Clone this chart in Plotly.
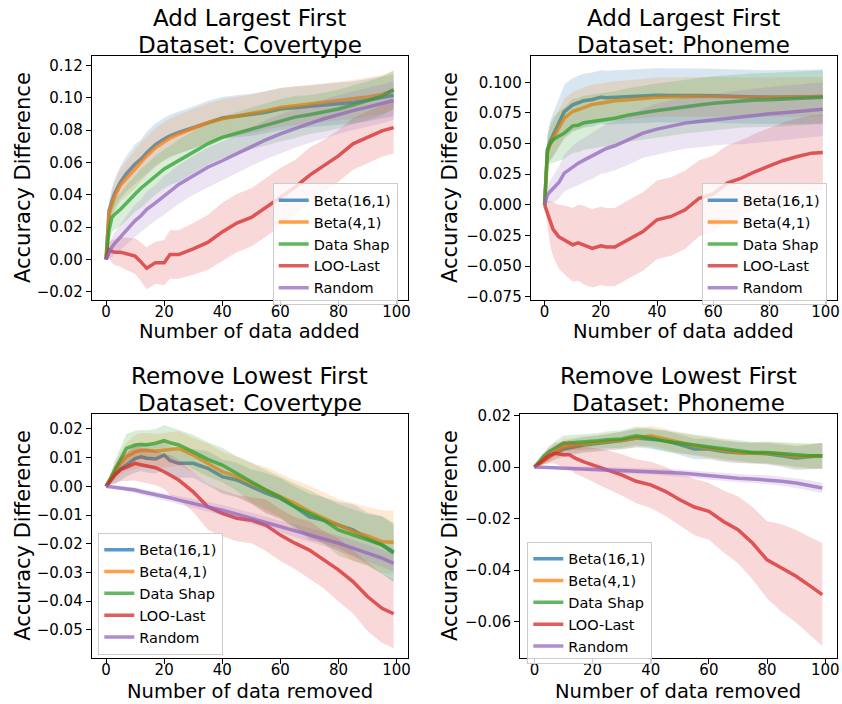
import plotly.graph_objects as go

# ---------------- data ----------------
X = [0, 1, 2, 3, 5, 7, 10, 12, 14, 17, 20, 22, 25, 30, 35, 40, 45, 50, 55, 60, 65, 70, 75, 80, 85, 90, 95, 99]
series_names = ["Beta(16,1)", "Beta(4,1)", "Data Shap", "LOO-Last", "Random"]
colors = ["31,119,180", "255,127,14", "44,160,44", "214,39,40", "148,103,189"]

# Add Largest First - Covertype
tl_beta16 = [0, .030, .036, .041, .048, .053, .059, .062, .066, .071, .0745, .0765, .0785, .0815, .085, .0875, .0885, .0895, .091, .093, .094, .0945, .0955, .0962, .097, .0985, .100, .1015]
tl_beta4 = [0, .028, .034, .039, .046, .050, .056, .060, .064, .069, .073, .075, .0775, .081, .0845, .087, .0885, .090, .092, .094, .095, .096, .097, .098, .099, .1005, .102, .1045]
tl_shap = [0, .018, .026, .028, .031, .035, .0405, .044, .047, .052, .056, .058, .061, .066, .0715, .0755, .078, .081, .0835, .086, .088, .0895, .091, .093, .0955, .098, .101, .105]
tl_loo = [0, .006, .005, .0045, .0045, .0035, .002, -.0015, -.0055, -.002, -.002, .003, .003, .0065, .0105, .017, .0225, .026, .032, .0385, .0445, .052, .058, .064, .0715, .0755, .0795, .0815]
tl_rand = [0, .004, .0076, .010, .014, .018, .024, .027, .031, .035, .0396, .042, .0464, .052, .057, .061, .0655, .070, .074, .0777, .081, .084, .087, .0896, .092, .0942, .0962, .0983]
tl_sd_beta16 = [0, .006, .008, .009, .010, .011, .012, .012, .013, .013, .013, .013, .013, .013, .013, .013, .013, .013, .013, .013, .013, .013, .013, .013, .013, .013, .013, .013]
tl_sd_beta4 = [0, .006, .008, .009, .010, .011, .012, .012, .012, .012, .012, .012, .012, .012, .012, .012, .012, .012, .012, .012, .012, .012, .012, .012, .012, .012, .012, .012]
tl_sd_shap = [0, .008, .009, .010, .010, .011, .011, .012, .012, .012, .012, .012, .013, .013, .013, .013, .013, .013, .013, .013, .013, .012, .012, .012, .012, .012, .012, .012]
tl_sd_loo = [0, .005, .007, .008, .009, .010, .011, .012, .013, .013, .014, .015, .015, .016, .017, .018, .018, .018, .018, .018, .017, .017, .016, .016, .016, .016, .016, .016]
tl_sd_rand = [0, .004, .006, .007, .008, .009, .010, .010, .011, .011, .012, .012, .012, .012, .012, .012, .012, .012, .012, .012, .012, .012, .012, .012, .012, .012, .012, .012]

# Add Largest First - Phoneme
tr_beta16 = [0, .045, .052, .057, .066, .076, .0816, .083, .085, .086, .0879, .0875, .0879, .0884, .0888, .0895, .0893, .0895, .0893, .089, .0885, .0879, .088, .0879, .0879, .0879, .088, .0884]
tr_beta4 = [0, .042, .050, .054, .062, .0707, .0762, .078, .080, .082, .083, .084, .0849, .0857, .087, .0879, .088, .0884, .0884, .0884, .088, .0879, .0879, .0879, .0879, .0879, .088, .0884]
tr_shap = [0, .045, .050, .053, .056, .0585, .0645, .065, .067, .068, .0694, .070, .0707, .0734, .0755, .077, .0785, .0803, .0815, .083, .084, .0851, .0855, .0857, .0862, .0868, .0873, .0879]
tr_loo = [0, -.0068, -.015, -.020, -.026, -.0286, -.0326, -.031, -.033, -.0355, -.0335, -.0345, -.0345, -.028, -.0218, -.0122, -.0095, -.0041, .0054, .009, .0177, .0218, .0272, .0318, .0362, .0394, .0422, .0427]
tr_rand = [0, .0082, .0109, .013, .018, .0259, .0313, .034, .0365, .040, .0443, .046, .0482, .053, .0585, .0618, .0645, .0667, .068, .0694, .0705, .0715, .073, .0743, .0752, .0762, .0772, .0781]
tr_sd_beta16 = [0, .012, .016, .018, .020, .022, .022, .022, .022, .022, .022, .022, .022, .022, .022, .022, .022, .022, .022, .022, .022, .022, .022, .022, .022, .022, .022, .022]
tr_sd_beta4 = [0, .010, .013, .014, .015, .016, .016, .016, .016, .016, .016, .016, .016, .016, .016, .016, .016, .016, .016, .016, .016, .016, .016, .016, .016, .016, .016, .016]
tr_sd_shap = [0, .012, .016, .018, .020, .021, .022, .022, .022, .022, .022, .022, .022, .022, .022, .022, .022, .022, .022, .022, .022, .022, .022, .022, .022, .022, .022, .022]
tr_sd_loo = [0, .010, .018, .022, .026, .028, .030, .031, .032, .032, .032, .032, .032, .032, .032, .032, .032, .032, .031, .031, .031, .031, .031, .031, .031, .031, .031, .031]
tr_sd_rand = [0, .006, .009, .011, .013, .015, .017, .018, .018, .019, .019, .020, .020, .020, .020, .021, .021, .021, .021, .021, .021, .022, .022, .022, .022, .022, .022, .022]

# Remove Lowest First - Covertype
bl_beta16 = [0, .0014, .0028, .004, .006, .0074, .0097, .0103, .0098, .0095, .0109, .009, .008, .008, .0063, .0034, .0022, -.0001, -.0024, -.0042, -.0071, -.0106, -.0118, -.0135, -.0152, -.0181, -.0204, -.0233]
bl_beta4 = [0, .0017, .0034, .005, .008, .0103, .012, .0125, .0126, .0122, .0126, .0128, .0132, .0109, .008, .0051, .0034, .001, -.0013, -.0036, -.0059, -.0088, -.0111, -.0135, -.0158, -.0173, -.0193, -.0195]
bl_shap = [0, .002, .004, .006, .0095, .0132, .0144, .0146, .0145, .015, .0159, .0152, .0144, .012, .0094, .0074, .0045, .0013, -.0013, -.0038, -.0071, -.0094, -.0118, -.0152, -.017, -.0187, -.0204, -.0228]
bl_loo = [0, .0014, .0028, .004, .0058, .0068, .008, .0075, .007, .0065, .0051, .004, .0022, -.0019, -.0071, -.0094, -.0111, -.0118, -.0135, -.017, -.0198, -.0222, -.0256, -.0291, -.0332, -.0384, -.0425, -.0444]
bl_rand = [0, -.0001, -.0002, -.0003, -.0006, -.0009, -.0013, -.0018, -.0022, -.0028, -.0036, -.004, -.0048, -.0059, -.0071, -.0083, -.0097, -.0111, -.0125, -.014, -.0155, -.0169, -.0183, -.0198, -.0215, -.0233, -.025, -.0268]
bl_sd_beta16 = [0, .001, .002, .003, .004, .004, .005, .005, .005, .005, .005, .005, .005, .005, .006, .006, .006, .006, .007, .007, .007, .008, .008, .008, .009, .009, .010, .010]
bl_sd_beta4 = [0, .001, .002, .003, .004, .005, .006, .006, .006, .006, .006, .006, .006, .006, .007, .007, .007, .007, .008, .008, .008, .009, .009, .009, .010, .010, .011, .011]
bl_sd_shap = [0, .001, .002, .003, .004, .005, .005, .005, .005, .005, .0055, .0055, .0055, .006, .006, .006, .006, .007, .007, .007, .008, .008, .008, .009, .009, .009, .010, .010]
bl_sd_loo = [0, .001, .002, .003, .004, .005, .006, .006, .006, .006, .006, .007, .007, .007, .008, .008, .008, .008, .009, .009, .009, .010, .010, .011, .011, .012, .012, .012]
bl_sd_rand = [0, 0, .0003, .0005, .0007, .0008, .001, .001, .001, .0012, .0013, .0014, .0015, .0016, .0017, .0018, .0019, .002, .002, .002, .0022, .0024, .0025, .0026, .0028, .003, .003, .003]

# Remove Lowest First - Phoneme
br_beta16 = [0, .0008, .0016, .0025, .004, .0054, .007, .0075, .008, .0086, .009, .0092, .0096, .0103, .0113, .0109, .0103, .0087, .007, .007, .0061, .0056, .0054, .0052, .0044, .0035, .0041, .0044]
br_beta4 = [0, .0008, .0016, .0023, .0038, .0057, .0078, .0082, .0085, .009, .0093, .0096, .010, .0103, .0113, .0122, .0109, .0096, .0083, .0074, .0065, .0057, .0054, .0054, .005, .0041, .0041, .0044]
br_shap = [0, .0014, .0028, .004, .006, .0074, .0093, .0094, .0095, .0097, .010, .0102, .0106, .0109, .0122, .0113, .010, .0093, .0087, .008, .007, .0065, .0057, .0057, .0052, .0048, .0044, .0044]
br_loo = [0, .0009, .0018, .003, .0045, .0054, .0048, .0048, .0035, .002, .0009, .0002, -.001, -.003, -.0055, -.0069, -.0094, -.0127, -.0155, -.0172, -.0211, -.0243, -.0295, -.036, -.0392, -.0424, -.0463, -.0495]
br_rand = [0, 0, -.0001, -.0001, -.0002, -.0003, -.0004, -.0005, -.0006, -.0007, -.0008, -.0009, -.0011, -.0013, -.0015, -.0017, -.002, -.0023, -.0028, -.0034, -.0038, -.0043, -.0046, -.0049, -.0055, -.0062, -.0072, -.0081]
br_sd_beta16 = [0, .0005, .001, .0015, .002, .0025, .003, .003, .003, .003, .003, .003, .0032, .0034, .0036, .0038, .004, .004, .004, .004, .004, .004, .004, .0042, .0044, .0046, .0048, .005]
br_sd_beta4 = br_sd_beta16
br_sd_shap = br_sd_beta16
br_sd_loo = [0, .0005, .001, .002, .003, .004, .005, .0055, .006, .006, .0065, .007, .0075, .008, .0085, .009, .0095, .010, .011, .011, .012, .013, .014, .015, .017, .018, .019, .020]
br_sd_rand = [0, .0002, .0003, .0004, .0005, .0006, .0007, .0008, .0008, .0009, .001, .001, .001, .0011, .0012, .0012, .0013, .0014, .0014, .0015, .0015, .0016, .0016, .0017, .0018, .0019, .002, .002]

x_ticks = [0, 20, 40, 60, 80, 100]
tl_yticks = [-0.02, 0.0, 0.02, 0.04, 0.06, 0.08, 0.10, 0.12]
tr_yticks = [-0.075, -0.05, -0.025, 0.0, 0.025, 0.05, 0.075, 0.10]
bl_yticks = [-0.05, -0.04, -0.03, -0.02, -0.01, 0.0, 0.01, 0.02]
br_yticks = [-0.06, -0.04, -0.02, 0.0, 0.02]

titles = [("Add Largest First", "Dataset: Covertype"), ("Add Largest First", "Dataset: Phoneme"),
          ("Remove Lowest First", "Dataset: Covertype"), ("Remove Lowest First", "Dataset: Phoneme")]
xlabels = ["Number of data added", "Number of data added", "Number of data removed", "Number of data removed"]
ylabel = "Accuracy Difference"

panels = [
    ([tl_beta16, tl_beta4, tl_shap, tl_loo, tl_rand], [tl_sd_beta16, tl_sd_beta4, tl_sd_shap, tl_sd_loo, tl_sd_rand]),
    ([tr_beta16, tr_beta4, tr_shap, tr_loo, tr_rand], [tr_sd_beta16, tr_sd_beta4, tr_sd_shap, tr_sd_loo, tr_sd_rand]),
    ([bl_beta16, bl_beta4, bl_shap, bl_loo, bl_rand], [bl_sd_beta16, bl_sd_beta4, bl_sd_shap, bl_sd_loo, bl_sd_rand]),
    ([br_beta16, br_beta4, br_shap, br_loo, br_rand], [br_sd_beta16, br_sd_beta4, br_sd_shap, br_sd_loo, br_sd_rand]),
]

# ---------------- layout geometry (pixels) ----------------
W, H = 842, 704
FONT = "DejaVu Sans"
boxes = [(91.7, 408, 56, 300), (530.7, 836.7, 56, 300), (91.7, 408, 414, 657.7), (520, 836.7, 414.3, 657.7)]
yranges = [[-0.0251, 0.1258], [-0.0777, 0.1215], [-0.0597, 0.0252], [-0.074, 0.0205]]
yticks = [tl_yticks, tr_yticks, bl_yticks, br_yticks]
yfmts = [".2f", ".3f", ".2f", ".2f"]
legend_pos = [(272.7, 183.3), (701.7, 183.3), (98.3, 532.7), (527.3, 541.7)]
title_y = [(18, 45), (18, 45), (376, 403), (376, 403)]
xlabel_y = [331, 331, 691, 691]
ylabel_x = [23, 450, 23, 450]


def fx(p):
    return p / W


def fy(p):
    return 1 - p / H


fig = go.Figure()
annotations = []
layout = dict(template="none", width=W, height=H, autosize=False, margin=dict(l=0, r=0, t=0, b=0, pad=0),
              paper_bgcolor="white", plot_bgcolor="white",
              font=dict(family=FONT, color="black"))

for i, (means, sds) in enumerate(panels):
    k = "" if i == 0 else str(i + 1)
    xa, ya = "x" + k, "y" + k
    leg = "legend" + k
    for j, name in enumerate(series_names):
        m, s = means[j], sds[j]
        upper = [a + b for a, b in zip(m, s)]
        lower = [a - b for a, b in zip(m, s)]
        fig.add_trace(go.Scatter(x=X + X[::-1], y=upper + lower[::-1], fill="toself",
                                 fillcolor=f"rgba({colors[j]},0.18)", line=dict(width=0),
                                 mode="lines", hoverinfo="skip", showlegend=False,
                                 xaxis=xa, yaxis=ya))
        fig.add_trace(go.Scatter(x=X, y=m, mode="lines", name=name,
                                 line=dict(color=f"rgba({colors[j]},0.75)", width=3.5),
                                 xaxis=xa, yaxis=ya, legend=leg, showlegend=True))
    l, r, t, b = boxes[i]
    axcommon = dict(showline=True, linecolor="black", linewidth=1, mirror=True, automargin=False,
                    ticks="outside", ticklen=5, tickwidth=1, tickcolor="black", showgrid=False, zeroline=False,
                    tickfont=dict(family=FONT, size=15, color="black"))
    layout["xaxis" + k] = dict(domain=[fx(l), fx(r)], range=[-4.95, 103.95], anchor=ya,
                               tickvals=x_ticks, ticklabelstandoff=-7, **axcommon)
    layout["yaxis" + k] = dict(domain=[fy(b), fy(t)], range=yranges[i], anchor=xa,
                               tickvals=yticks[i], tickformat=yfmts[i], **axcommon)
    lx, ly = legend_pos[i]
    layout[leg] = dict(x=fx(lx), y=fy(ly), xanchor="left", yanchor="top",
                       bgcolor="rgba(255,255,255,0.8)", bordercolor="#cccccc", borderwidth=1,
                       font=dict(family=FONT, size=14.5, color="black"), itemwidth=30)
    cx = (l + r) / 2
    annotations.append(dict(text=titles[i][0], x=fx(cx), y=fy(title_y[i][0]), xref="paper", yref="paper",
                            xanchor="center", yanchor="middle", showarrow=False,
                            font=dict(family=FONT, size=23, color="black")))
    annotations.append(dict(text=titles[i][1], x=fx(cx), y=fy(title_y[i][1]), xref="paper", yref="paper",
                            xanchor="center", yanchor="middle", showarrow=False,
                            font=dict(family=FONT, size=23, color="black")))
    annotations.append(dict(text=xlabels[i], x=fx(cx), y=fy(xlabel_y[i]), xref="paper", yref="paper",
                            xanchor="center", yanchor="middle", showarrow=False,
                            font=dict(family=FONT, size=19.5, color="black")))
    annotations.append(dict(text=ylabel, x=fx(ylabel_x[i]), y=fy((t + b) / 2), xref="paper", yref="paper",
                            xanchor="center", yanchor="middle", showarrow=False, textangle=-90,
                            font=dict(family=FONT, size=21, color="black")))

layout["annotations"] = annotations
fig.update_layout(**layout)
fig.write_html("out.html", config={"displayModeBar": False},
               post_script="document.body.style.margin='0';document.body.style.overflow='hidden';")
